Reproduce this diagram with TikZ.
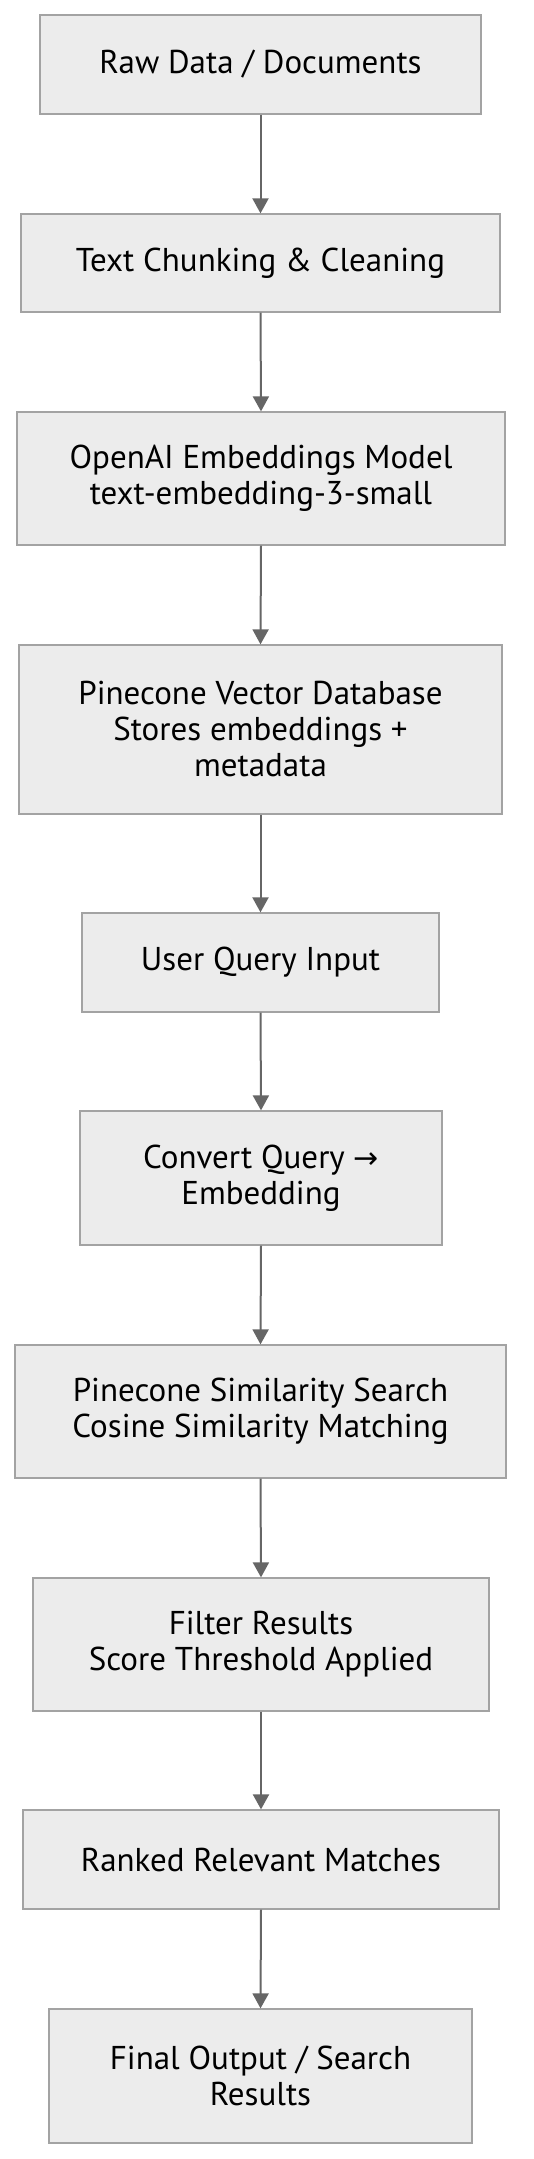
\documentclass[tikz,border=0pt]{standalone}
\usepackage{fontspec}
\setmainfont{PT Sans}
\newfontfamily\arrowfont{DejaVu Sans}
\usetikzlibrary{arrows.meta}
\definecolor{boxfill}{HTML}{ECECEC}
\definecolor{boxline}{HTML}{A3A3A3}
\definecolor{arrowc}{HTML}{666666}
\begin{document}
\begin{tikzpicture}[x=1pt,y=-1pt,
  stepbox/.style={draw=boxline,fill=boxfill,line width=1.3pt,rectangle,align=center,inner sep=0pt,
    font=\fontsize{33}{36}\selectfont,text=black},
  flow/.style={draw=arrowc,line width=2pt,-{Triangle[length=15pt,width=16pt]}}]
\useasboundingbox (0,0) rectangle (533,2159);
\fill[white] (0,0) rectangle (533,2159);
\node[stepbox,minimum width=441,minimum height=99] (n1) at (260.5,64.5) {Raw Data / Documents};
\node[stepbox,minimum width=479,minimum height=98] (n2) at (260.5,263) {Text Chunking \& Cleaning};
\node[stepbox,minimum width=488,minimum height=133] (n3) at (261,478.5) {OpenAI Embeddings Model\\text-embedding-3-small};
\node[stepbox,minimum width=483,minimum height=169] (n4) at (260.5,729.5) {Pinecone Vector Database\\Stores embeddings +\\metadata};
\node[stepbox,minimum width=357,minimum height=99] (n5) at (260.5,962.5) {User Query Input};
\node[stepbox,minimum width=362,minimum height=134] (n6) at (261,1178) {Convert Query {\arrowfont\fontsize{30}{36}\selectfont →}\\Embedding};
\node[stepbox,minimum width=491,minimum height=133] (n7) at (260.5,1411.5) {Pinecone Similarity Search\\Cosine Similarity Matching};
\node[stepbox,minimum width=456,minimum height=133] (n8) at (261,1644.5) {Filter Results\\Score Threshold Applied};
\node[stepbox,minimum width=476,minimum height=99] (n9) at (261,1859.5) {Ranked Relevant Matches};
\node[stepbox,minimum width=423,minimum height=134] (n10) at (260.5,2076) {Final Output / Search\\Results};
\foreach \a/\b in {n1/n2,n2/n3,n3/n4,n4/n5,n5/n6,n6/n7,n7/n8,n8/n9,n9/n10}
  \draw[flow] (\a.south) -- (\b.north);
\end{tikzpicture}
\end{document}
